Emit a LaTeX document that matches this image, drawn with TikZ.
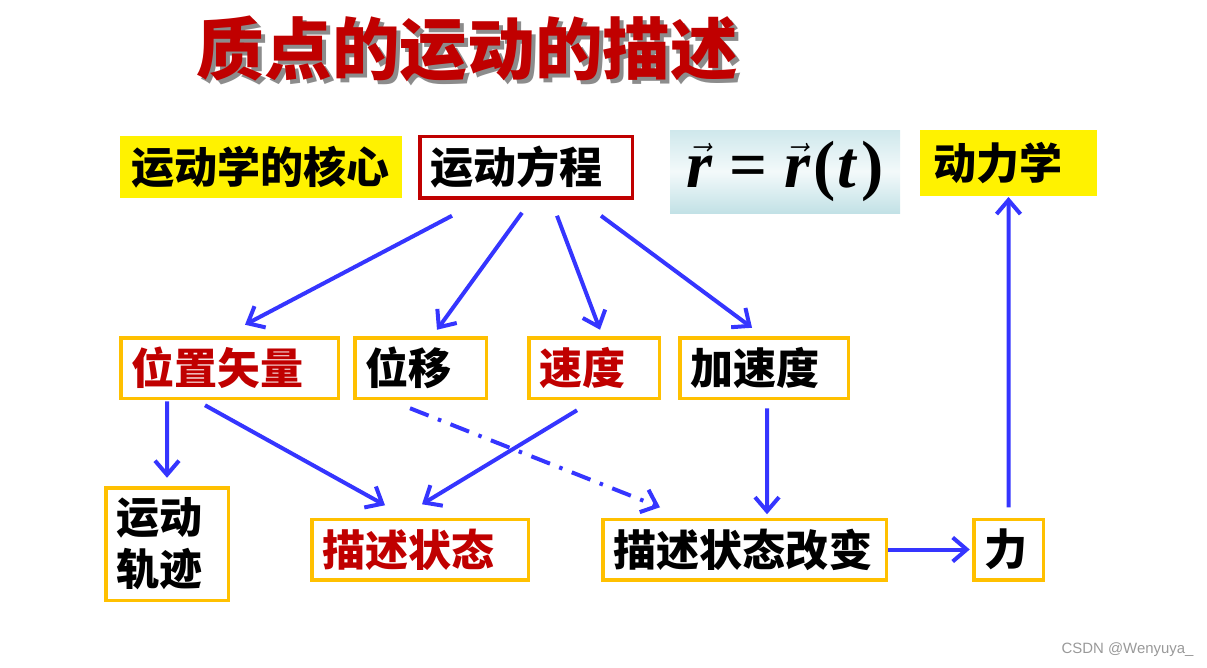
\documentclass[tikz,border=0pt]{standalone}
\usepackage{fontspec}
\newfontfamily\cjk{Noto Sans CJK SC}
\newfontfamily\timesf{Liberation Serif}
\newfontfamily\marksf{Liberation Sans}
\usepackage{xcolor}
\definecolor{colorRed}{HTML}{C00000}
\definecolor{colorFrame}{HTML}{FFC000}
\definecolor{colorArrow}{HTML}{3535FF}
\definecolor{colorShadow}{HTML}{8C8C8C}
\definecolor{colorFormTop}{HTML}{CFE8EC}
\definecolor{colorFormBot}{HTML}{C2E1E6}
\usetikzlibrary{arrows.meta, positioning}

\begin{document}
\begin{tikzpicture}[>={Straight Barb[length=0.28cm, width=0.48cm]},
  box/.style={draw=colorFrame, line width=0.07cm, fill=white, inner xsep=0.22cm, inner ysep=0pt, outer sep=0pt, minimum height=1.21cm, align=left, font=\cjk\bfseries\fontsize{24.5}{29.5}\selectfont},
  yellowbox/.style={fill=yellow, inner xsep=0.22cm, inner ysep=0pt, outer sep=0pt, align=left, font=\cjk\bfseries\fontsize{24.5}{29.5}\selectfont},
  arr/.style={->, colorArrow, line width=0.08cm}]
\useasboundingbox (0,0) rectangle (24.14,-13.34);
% title with shadow
\node[font=\cjk\bfseries\fontsize{38.5}{40}\selectfont, text=colorShadow] (titleshadow) at (9.43,-1.05) {质点的运动的描述};
\node[font=\cjk\bfseries\fontsize{38.5}{40}\selectfont, text=colorRed] (title) at (9.35,-0.97) {质点的运动的描述};
% top row
\node[yellowbox, text width=5.20cm, minimum height=1.24cm] (hexin) at (5.22,-3.34) {运动学的核心};
\node[box, draw=colorRed, text width=3.81cm, minimum height=1.23cm, right=0.355cm of hexin] (fangcheng) {运动方程};
\node[top color=colorFormTop, bottom color=colorFormBot, middle color=white!75!colorFormTop, minimum width=4.6cm, minimum height=1.66cm, inner sep=0pt, font=\timesf\bfseries\fontsize{38}{40}\selectfont] (formula) at (15.7,-3.43) {$\vec{\mbox{\itshape r}}$ = $\vec{\mbox{\itshape r}}$\kern0.05em(\kern0.03em\textit{t}\kern0.05em)};
\node[yellowbox, text width=3.00cm, inner xsep=0.27cm, minimum height=1.32cm] (dongli) at (20.17,-3.26) {动力学};
% middle row
\node[box, text width=3.91cm, text=colorRed] (weizhi) at (4.59,-7.36) {位置矢量};
\node[box, text width=2.19cm, right=0.33cm of weizhi] (weiyi) {位移};
\node[box, text width=2.17cm, text=colorRed, right=0.85cm of weiyi] (sudu) {速度};
\node[box, text width=2.93cm, right=0.41cm of sudu] (jiasudu) {加速度};
% bottom row
\node[box, text width=2.01cm, minimum height=2.25cm] (guiji) at (3.34,-10.88) {运动\\轨迹};
\node[box, text width=3.89cm, text=colorRed] (zhuangtai) at (8.4,-10.99) {描述状态};
\node[box, text width=5.23cm, right=1.49cm of zhuangtai] (gaibian) {描述状态改变};
\node[box, text width=0.95cm, right=1.75cm of gaibian] (li) {力};
% connectors
\draw[arr] ([xshift=-1.48cm, yshift=-0.36cm]fangcheng.south) -- ([xshift=0.31cm, yshift=0.26cm]weizhi.north);
\draw[arr] ([xshift=-0.08cm, yshift=-0.30cm]fangcheng.south) -- ([xshift=0.33cm, yshift=0.16cm]weiyi.north);
\draw[arr] ([xshift=0.62cm, yshift=-0.36cm]fangcheng.south) -- ([xshift=0.12cm, yshift=0.16cm]sudu.north);
\draw[arr] ([xshift=1.50cm, yshift=-0.36cm]fangcheng.south) -- ([xshift=-0.24cm, yshift=0.20cm]jiasudu.north);
\draw[arr] ([xshift=-1.25cm, yshift=-0.06cm]weizhi.south) -- ([yshift=0.20cm]guiji.north);
\draw[arr] ([xshift=-0.49cm, yshift=-0.14cm]weizhi.south) -- ([xshift=-0.70cm, yshift=0.28cm]zhuangtai.north);
\draw[arr] ([xshift=-0.34cm, yshift=-0.24cm]sudu.south) -- ([xshift=0.04cm, yshift=0.30cm]zhuangtai.north);
\draw[arr, dash pattern=on 0.4cm off 0.2cm on 0.07cm off 0.2cm] ([xshift=-0.21cm, yshift=-0.20cm]weiyi.south) -- ([xshift=-1.69cm, yshift=0.24cm]gaibian.north);
\draw[arr] ([xshift=0.06cm, yshift=-0.20cm]jiasudu.south) -- ([xshift=0.45cm, yshift=0.10cm]gaibian.north);
\draw[arr] ([xshift=0.04cm]gaibian.east) -- ([xshift=-0.08cm]gaibian.east -| li.west);
\draw[arr] ([yshift=0.24cm]li.north) -- ([yshift=-0.02cm]dongli.south);
% watermark
\node[font=\marksf\fontsize{8.5}{10}\selectfont, text=gray!80] (csdn) at (22.55,-13.0) {CSDN @Wenyuya\_};
\end{tikzpicture}
\end{document}
